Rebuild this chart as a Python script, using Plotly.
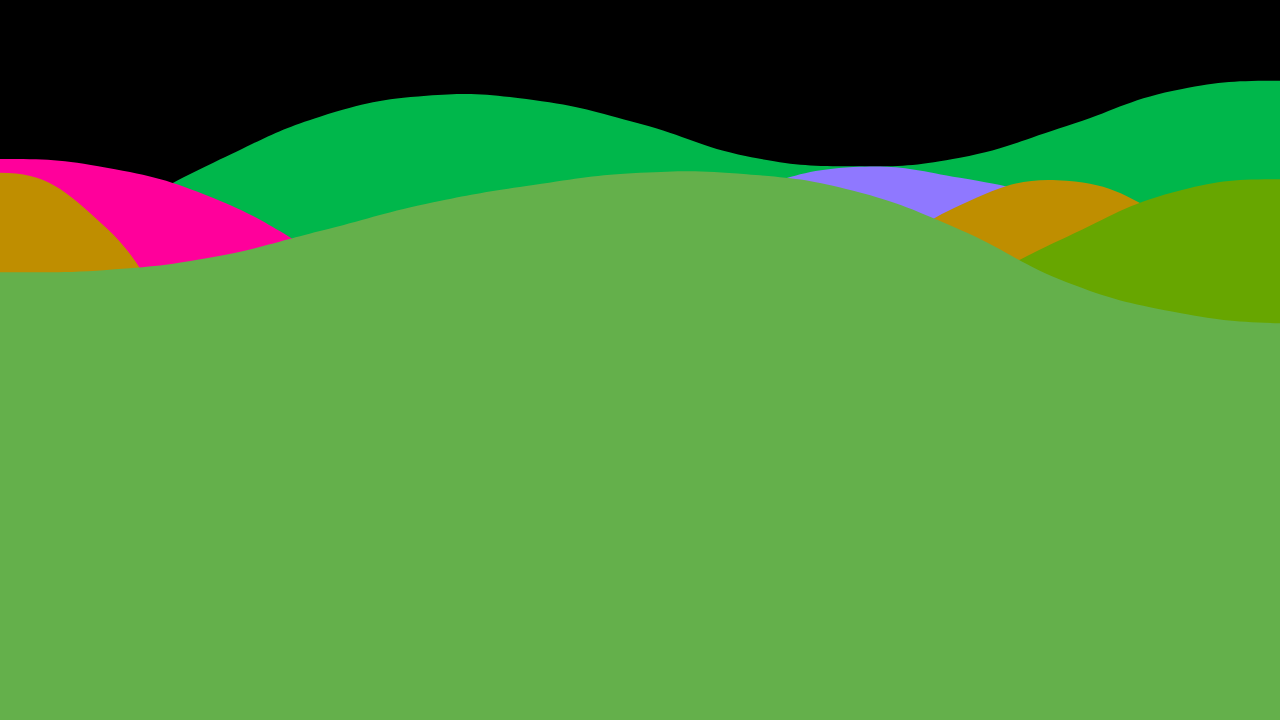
import plotly.graph_objects as go

# positions run from -1 to 13; only 0..12 is shown, the outer points shape the ends
x_pos = list(range(-1, 14))

# values as share of plot height (0 = bottom, 100 = top)
back_green = [59.7, 65.3, 70.1, 77.4, 83.8, 86.7, 86.1, 82.8, 78.3, 76.9, 78.1, 82.5, 87.4, 88.8, 87.5]
pink = [76.7, 77.9, 76.7, 72.5, 64.6, 55.6, 45.8, 38.9, 34.7, 31.9, 30.6, 29.9, 29.2, 29.9, 30.6]
purple = [16.7, 18.1, 20.8, 25.0, 33.3, 44.4, 56.9, 68.1, 73.6, 76.8, 75.3, 71.5, 63.9, 55.6, 50.0]
gold = [68.3, 76.0, 68.3, 44.4, 27.8, 25.0, 27.8, 37.5, 50.0, 61.1, 71.5, 74.9, 69.2, 58.3, 52.8]
olive = [9.7, 11.1, 13.9, 16.7, 20.8, 25.0, 30.6, 37.5, 44.4, 52.8, 59.7, 67.1, 73.3, 75.1, 73.3]
light_green = [62.5, 62.2, 62.5, 64.3, 67.9, 71.7, 74.3, 76.0, 75.8, 73.5, 68.1, 60.8, 56.7, 55.1, 55.8]

series = [
    (back_green, "#00B74B"),
    (pink, "#FF009B"),
    (purple, "#8F78FF"),
    (gold, "#BF8E00"),
    (olive, "#67A600"),
    (light_green, "#64B04B"),
]

fig = go.Figure()
for values, color in series:
    fig.add_trace(go.Scatter(
        x=x_pos, y=values,
        mode="lines",
        line=dict(shape="spline", smoothing=1.3, width=0, color=color),
        fill="tozeroy",
        fillcolor=color,
        hoverinfo="skip",
        showlegend=False,
    ))

fig.update_layout(
    width=1280, height=720,
    margin=dict(l=0, r=0, t=0, b=0),
    paper_bgcolor="black",
    plot_bgcolor="black",
    xaxis=dict(range=[0, 12], visible=False, fixedrange=True),
    yaxis=dict(range=[0, 100], visible=False, fixedrange=True),
)

# drop the page margin so the chart fills the window
fig.write_html("out.html", config={"displayModeBar": False},
               post_script="document.body.style.margin='0';")
